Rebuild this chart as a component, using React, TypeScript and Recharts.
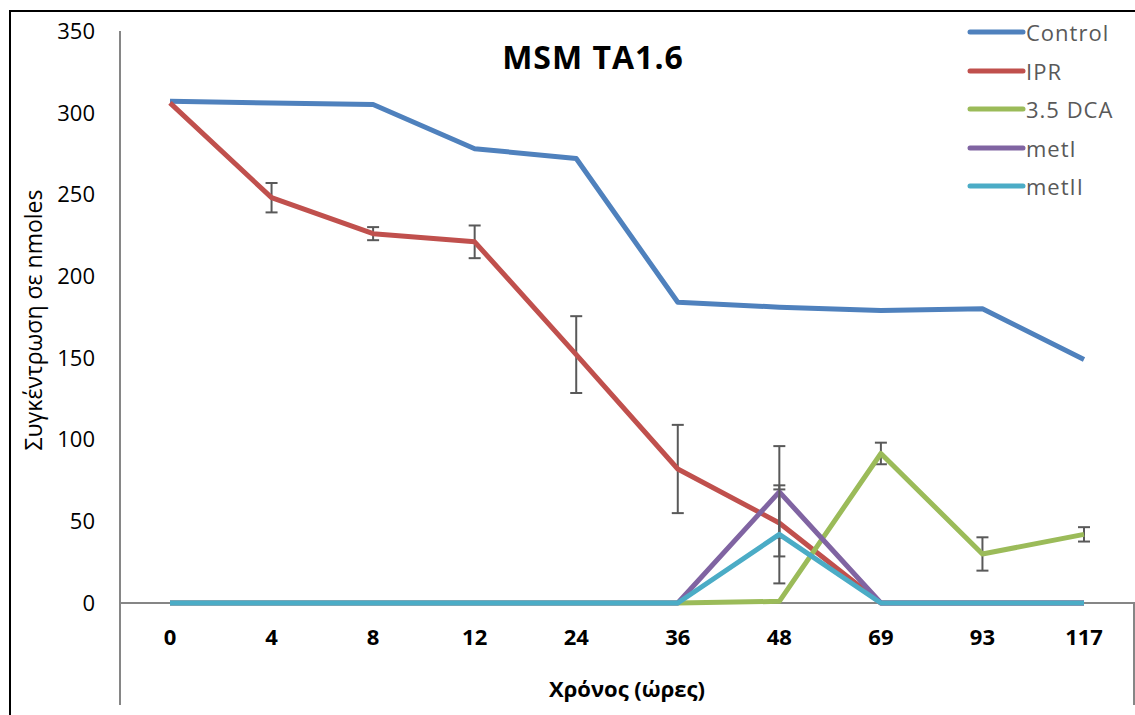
import React from 'react';
import { LineChart, Line, XAxis, YAxis, ErrorBar } from 'recharts';

const categories = ['0', '4', '8', '12', '24', '36', '48', '69', '93', '117'];
const control = [307, 306, 305, 278, 272, 184, 181, 179, 180, 149];
const ipr = [306, 248, 226, 221, 152, 82, 49, 0, 0, 0];
const iprErr = [0, 9, 4, 10, 23.5, 27, 20.5, 0, 0, 0];
const dca = [0, 0, 0, 0, 0, 0, 1, 91.5, 30, 42];
const dcaErr = [0, 0, 0, 0, 0, 0, 0, 6.6, 10.2, 4.4];
const metI = [0, 0, 0, 0, 0, 0, 68, 0, 0, 0];
const metIErr = [0, 0, 0, 0, 0, 0, 28, 0, 0, 0];
const metII = [0, 0, 0, 0, 0, 0, 42, 0, 0, 0];
const metIIErr = [0, 0, 0, 0, 0, 0, 30, 0, 0, 0];
const yTicks = [0, 50, 100, 150, 200, 250, 300, 350];

const seriesNames = ['Control', 'IPR', '3.5 DCA', 'metI', 'metII'];
const seriesKeys = ['control', 'ipr', 'dca', 'metI', 'metII'];
const seriesColors = ['#4F81BD', '#C0504D', '#9BBB59', '#8064A2', '#4BACC6'];
const errKeys: (string | null)[] = [null, 'iprErr', 'dcaErr', 'metIErr', 'metIIErr'];

const data = categories.map((c, i) => ({
  t: c,
  control: control[i],
  ipr: ipr[i],
  iprErr: iprErr[i],
  dca: dca[i],
  dcaErr: dcaErr[i],
  metI: metI[i],
  metIErr: metIErr[i],
  metII: metII[i],
  metIIErr: metIIErr[i],
}));

const FONT = '"Open Sans", "Noto Sans", sans-serif';

export default function App() {
  return (
    <div style={{ position: 'fixed', left: 0, top: 0, width: 1135, height: 715, overflow: 'hidden', background: '#fff', fontFamily: FONT }}>
      <svg width={1135} height={715} style={{ position: 'absolute', left: 0, top: 0 }}>
        <line x1={119} y1={603} x2={1135} y2={603} stroke="#868686" strokeWidth={2} />
        <line x1={120} y1={603} x2={120} y2={705} stroke="#868686" strokeWidth={2} />
        <line x1={1134} y1={603} x2={1134} y2={705} stroke="#868686" strokeWidth={2} />
      </svg>
      <div style={{ position: 'absolute', left: 0, top: 0 }}>
        <LineChart width={1135} height={715} data={data} margin={{ top: 31, right: 1, bottom: 0, left: 0 }}>
          <XAxis
            dataKey="t"
            interval={0}
            height={112}
            padding={{ left: 50, right: 50 }}
            axisLine={false}
            tickLine={false}
            tickMargin={20}
            tick={{ fill: '#000', fontSize: 22, fontWeight: 700, fontFamily: FONT }}
            label={(props: any) => {
              const vb = props.viewBox || { x: 120, y: 603, width: 1014, height: 112 };
              return (
                <text x={vb.x + vb.width / 2} y={688} textAnchor="middle" dominantBaseline="central" fontSize={22} fontWeight={700} fontFamily={FONT} fill="#000">
                  Χρόνος (ώρες)
                </text>
              );
            }}
          />
          <YAxis
            width={120}
            domain={[0, 350]}
            ticks={yTicks}
            interval={0}
            axisLine={{ stroke: '#868686', strokeWidth: 2 }}
            tickLine={false}
            tickMargin={19}
            tick={{ fill: '#000', fontSize: 22, fontFamily: FONT }}
            label={() => (
              <text x={33} y={320} transform="rotate(-90 33 320)" textAnchor="middle" dominantBaseline="central" fontSize={23} fontFamily={FONT} fill="#000">
                Συγκέντρωση σε nmoles
              </text>
            )}
          />
          {seriesKeys.map((k, i) => (
            <Line
              key={k}
              type="linear"
              dataKey={k}
              name={seriesNames[i]}
              stroke={seriesColors[i]}
              strokeWidth={5}
              dot={false}
              activeDot={false}
              strokeLinejoin="round"
              isAnimationActive={false}
            >
              {errKeys[i] ? (
                <ErrorBar dataKey={errKeys[i] as string} width={6} strokeWidth={2} stroke="#595959" direction="y" isAnimationActive={false} />
              ) : null}
            </Line>
          ))}
        </LineChart>
      </div>
      <svg width={1135} height={715} style={{ position: 'absolute', left: 0, top: 0, pointerEvents: 'none' }}>
        <line x1={9} y1={11} x2={1135} y2={11} stroke="#000" strokeWidth={2} />
        <line x1={10} y1={11} x2={10} y2={715} stroke="#000" strokeWidth={2} />
        <text x={593} y={56} textAnchor="middle" dominantBaseline="central" fontSize={32} fontWeight={700} letterSpacing={1} fontFamily={FONT} fill="#000">
          MSM TA1.6
        </text>
      </svg>
      <div style={{ position: 'absolute', left: 966, top: 13 }}>
        {seriesNames.map((n, i) => (
          <div key={n} style={{ display: 'flex', alignItems: 'center', height: 38.5 }}>
            <svg width={60} height={10}>
              <line x1={4} y1={5} x2={57} y2={5} stroke={seriesColors[i]} strokeWidth={5} strokeLinecap="round" />
            </svg>
            <span style={{ fontSize: 22, color: '#595959', letterSpacing: 1, lineHeight: '38.5px', fontFamily: FONT }}>{n}</span>
          </div>
        ))}
      </div>
    </div>
  );
}
